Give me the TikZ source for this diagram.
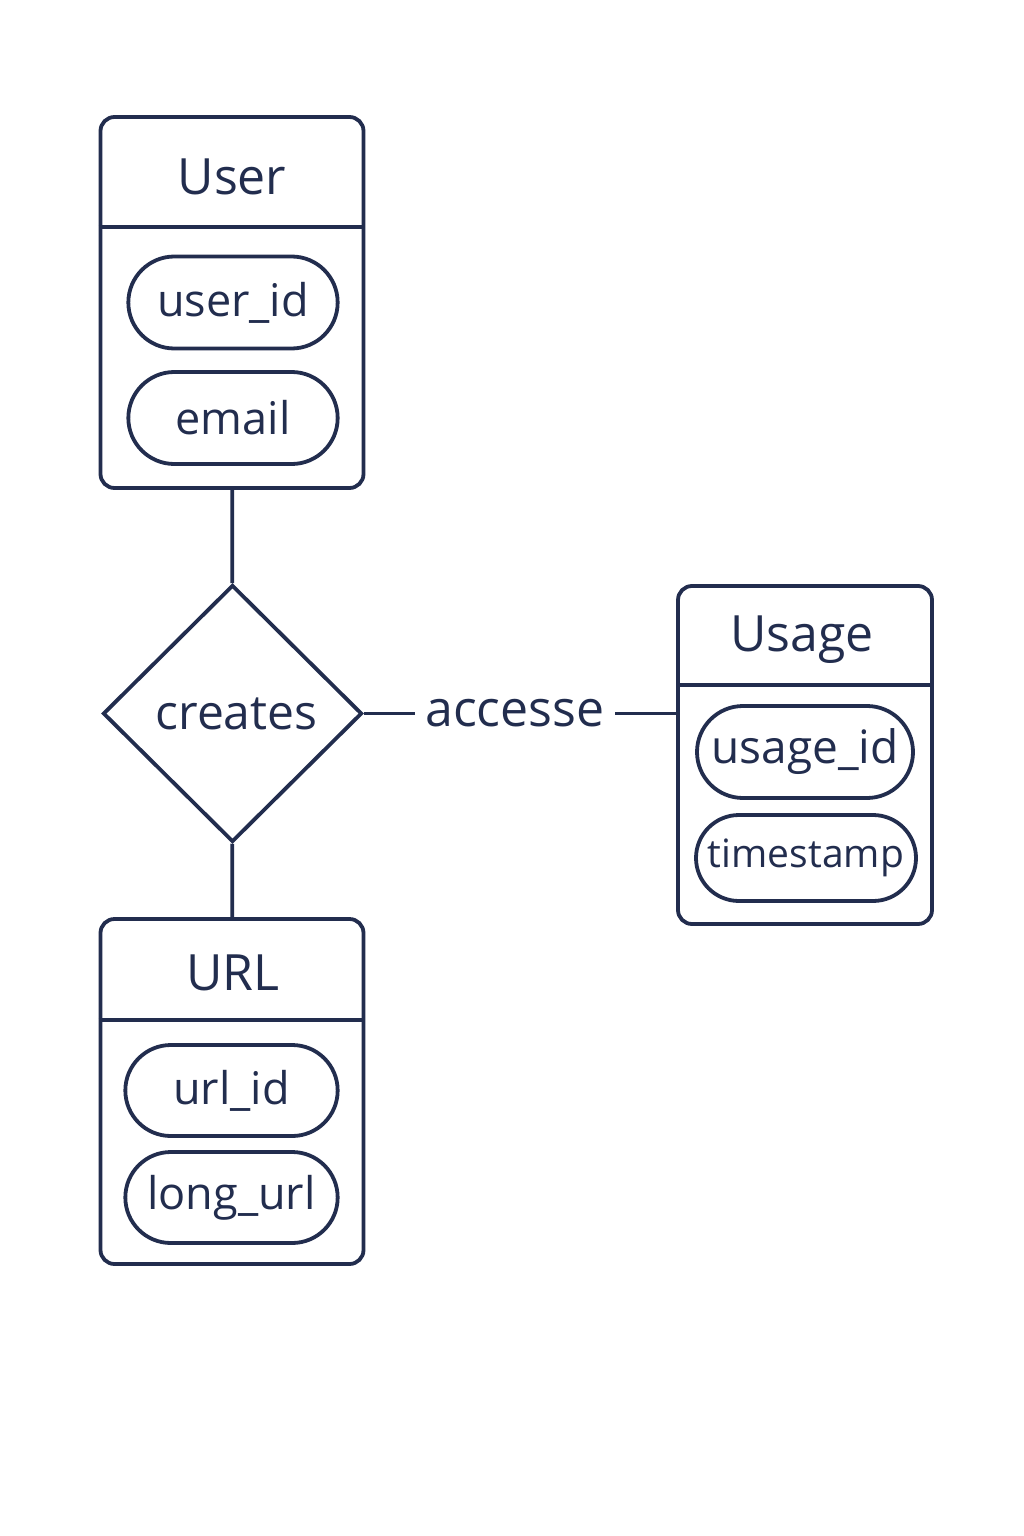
\documentclass[tikz,border=0pt]{standalone}
\usepackage{fontspec}
\setmainfont{Open Sans}
\usetikzlibrary{shapes.geometric,shapes.misc,positioning}
\definecolor{erdnavy}{RGB}{34,45,78}
\tikzstyle{entity} = [rectangle, rounded corners=14pt, minimum width=263pt, draw=erdnavy, line width=3.8pt]
\tikzstyle{title} = [text=erdnavy, font=\fontsize{50}{56}\selectfont]
\tikzstyle{attr} = [rounded rectangle, minimum width=216pt, minimum height=92pt, draw=erdnavy, line width=3.8pt, text=erdnavy, font=\fontsize{45}{50}\selectfont]
\tikzstyle{relation} = [diamond, minimum width=259pt, minimum height=257pt, inner sep=0pt, draw=erdnavy, line width=3.8pt, text=erdnavy, font=\fontsize{48}{54}\selectfont]
\tikzstyle{link} = [draw=erdnavy, line width=3.8pt]

\begin{document}
\begin{tikzpicture}[x=1pt, y=-1pt]
\useasboundingbox[fill=white] (0,0) rectangle (1024,1536);
% Entities
\node (user) [entity, minimum height=371pt] at (232,302.5) {};
\node (usage) [entity, minimum width=254pt, minimum height=338pt] at (805,755) {};
\node (url) [entity, minimum height=345pt] at (232,1091.5) {};

% Header lines
\draw[link] (user.west |- 0,227) -- (user.east |- 0,227);
\draw[link] (usage.west |- 0,685) -- (usage.east |- 0,685);
\draw[link] (url.west |- 0,1020) -- (url.east |- 0,1020);

% Titles
\node (usertitle) [title] at (232,177) {User};
\node (usagetitle) [title] at (802,640) {Usage};
\node (urltitle) [title] at (233,973) {URL};

% Attributes
\node (userid) [attr] at (233,302.5) {user\_id};
\node (email) [attr] at (233,418) {email};
\node (usageid) [attr, inner sep=0pt, font=\fontsize{46}{52}\selectfont] at (805,752) {usage\_id};
\node (timestamp) [attr, inner sep=0pt, minimum width=220pt, minimum height=86pt, font=\fontsize{39}{44}\selectfont] at (806,858) {timestamp};
\node (urlid) [attr, minimum width=219pt, minimum height=91pt] at (231.5,1090.5) {url\_id};
\node (longurl) [attr, minimum width=219pt, minimum height=91pt] at (231.5,1197.5) {long\_url};

% Relationship
\node (creates) [relation] at (232.5,713.5) {\hspace*{8pt}creates};

% Connectors
\draw[link] (user) -- (creates);
\draw[link] (creates) -- (url);
\draw[link] (creates.east) -- node[pos=0.484, fill=white, inner sep=10pt, text=erdnavy, font=\fontsize{50}{56}\selectfont] (accesslabel) {accesse} (creates.east -| usage.west);
\end{tikzpicture}
\end{document}
